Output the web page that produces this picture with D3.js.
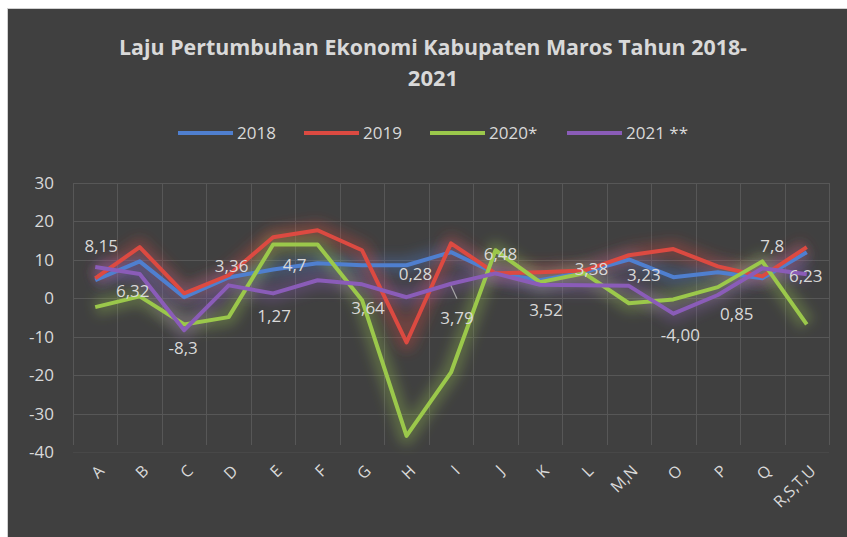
<!DOCTYPE html>
<html>
<head>
<meta charset="utf-8">
<script src="https://cdn.jsdelivr.net/npm/d3@7"></script>
<style>
  html, body { margin: 0; padding: 0; background: #ffffff; }
  svg { display: block; }
  text { font-family: "Open Sans", "Noto Sans", sans-serif; }
</style>
</head>
<body>
<div id="chart"></div>
<script>
// sectors (lapangan usaha)
const categories = ["A","B","C","D","E","F","G","H","I","J","K","L","M,N","O","P","Q","R,S,T,U"];

// growth rates per year
const s2018 = [4.7, 9.6, 0.3, 5.4, 7.5, 9.1, 8.6, 8.6, 12.0, 6.5, 4.7, 6.8, 10.1, 5.5, 6.8, 5.2, 12.0];
const s2019 = [5.2, 13.3, 1.3, 6.0, 15.9, 17.7, 12.5, -11.5, 14.3, 6.5, 6.8, 7.2, 11.2, 12.8, 8.3, 5.7, 13.3];
const s2020 = [-2.3, 0.5, -6.8, -4.9, 14.0, 14.0, -0.5, -35.8, -19.3, 12.5, 4.2, 6.5, -1.3, -0.3, 2.9, 9.6, -6.8];
const s2021 = [8.15, 6.32, -8.3, 3.36, 1.27, 4.7, 3.64, 0.28, 3.79, 6.48, 3.52, 3.38, 3.23, -4.00, 0.85, 7.8, 6.23];

const seriesNames = ["2018", "2019", "2020*", "2021 **"];
const seriesColors = ["#4f7fcf", "#dc4a41", "#9bc84b", "#8a5cb8"];
const yTicks = [30, 20, 10, 0, -10, -20, -30, -40];

// where Excel put each data label for 2021, relative to the point
const labelPos = [[6,-21],[-7,17],[-1,18],[3,-19],[1,23],[-23,-15],[6,24],[9,-23],[6,34],[5,-19],[6,25],[7,-16],[15,-11],[7,21],[19,19],[10,-22],[-1,2]];

const W = 847, H = 537;
const svg = d3.select("#chart").append("svg").attr("width", W).attr("height", H);

// frame
svg.append("rect").attr("x", 0).attr("y", 0).attr("width", W).attr("height", H).attr("fill", "#ffffff");
svg.append("rect").attr("x", 7.5).attr("y", 8.5).attr("width", W).attr("height", H)
    .attr("fill", "#404040").attr("stroke", "#d0d0d0").attr("stroke-width", 1);

const defs = svg.append("defs");
const glow = defs.append("filter").attr("id", "glow")
    .attr("x", "-20%").attr("y", "-50%").attr("width", "140%").attr("height", "200%");
glow.append("feGaussianBlur").attr("stdDeviation", 6);

const x = d3.scaleBand().domain(categories).range([73, 829]);
const y = d3.scaleLinear().domain([-40, 30]).range([452, 183]);

// gridlines
const grid = svg.append("g").attr("stroke", "#575757").attr("stroke-width", 1);
grid.selectAll("line.h").data(yTicks).enter().append("line")
    .attr("x1", 73).attr("x2", 829)
    .attr("y1", d => Math.round(y(d)) + 0.5).attr("y2", d => Math.round(y(d)) + 0.5)
    .attr("opacity", d => d === -40 ? 0.35 : 1);
grid.selectAll("line.v").data(categories.concat(["_end"])).enter().append("line")
    .attr("x1", (d, i) => Math.round(i < categories.length ? x(d) : 829) + 0.5)
    .attr("x2", (d, i) => Math.round(i < categories.length ? x(d) : 829) + 0.5)
    .attr("y1", 183).attr("y2", 445);

// y axis labels
svg.append("g").selectAll("text").data(yTicks).enter().append("text")
    .attr("x", 54).attr("y", d => y(d)).attr("dy", "0.35em")
    .attr("text-anchor", "end").attr("fill", "#d9d9d9").attr("font-size", 17)
    .text(d => d);

// x axis labels, rotated
svg.append("g").selectAll("text").data(categories).enter().append("text")
    .attr("transform", d => `translate(${x(d) + x.bandwidth() / 2 + 6},468) rotate(-45)`)
    .attr("dy", "0.35em").attr("text-anchor", "end")
    .attr("fill", "#d9d9d9").attr("font-size", 16)
    .text(d => d);

const allSeries = [s2018, s2019, s2020, s2021];
const line = d3.line()
    .x((d, i) => x(categories[i]) + x.bandwidth() / 2)
    .y(d => y(d));

// soft glow behind each line
allSeries.forEach((s, k) => {
    svg.append("path").datum(s).attr("d", line)
        .attr("fill", "none").attr("stroke", seriesColors[k])
        .attr("stroke-width", 18).attr("stroke-opacity", 0.3)
        .attr("stroke-linejoin", "round").attr("filter", "url(#glow)");
});
allSeries.forEach((s, k) => {
    svg.append("path").datum(s).attr("d", line)
        .attr("fill", "none").attr("stroke", seriesColors[k])
        .attr("stroke-width", 4).attr("stroke-linejoin", "round");
});

// leader line for the label on I
const iI = categories.indexOf("I");
const px = x("I") + x.bandwidth() / 2;
svg.append("line")
    .attr("x1", px).attr("y1", y(s2021[iI]) + 2)
    .attr("x2", px + 6).attr("y2", y(s2021[iI]) + 15)
    .attr("stroke", "#a6a6a6").attr("stroke-width", 1.2);

// data labels (2021)
svg.append("g").selectAll("text").data(s2021).enter().append("text")
    .attr("x", (d, i) => x(categories[i]) + x.bandwidth() / 2 + labelPos[i][0])
    .attr("y", (d, i) => y(d) + labelPos[i][1])
    .attr("dy", "0.35em").attr("text-anchor", "middle")
    .attr("fill", "#d9d9d9").attr("font-size", 17)
    .text(d => d3.format(d === -4 ? ".2f" : "")(d).replace(".", ",").replace("−", "-"));

// title
const title = svg.append("g").attr("fill", "#d9d9d9").attr("font-weight", "bold").attr("text-anchor", "middle");
const t1 = title.append("text").attr("x", 433).attr("y", 55).attr("font-size", 22)
    .text("Laju Pertumbuhan Ekonomi Kabupaten Maros Tahun 2018-");
title.append("text").attr("x", 433).attr("y", 86).attr("font-size", 22).text("2021");
// squeeze the first line to the width it has in the picture
const w1 = t1.node().getComputedTextLength();
if (w1 > 628) t1.attr("textLength", 628).attr("lengthAdjust", "spacingAndGlyphs");

// legend
const legendX = [178, 304, 430, 567];
const legend = svg.append("g");
seriesNames.forEach((n, k) => {
    legend.append("line")
        .attr("x1", legendX[k]).attr("x2", legendX[k] + 55)
        .attr("y1", 133).attr("y2", 133)
        .attr("stroke", seriesColors[k]).attr("stroke-width", 4);
    legend.append("text")
        .attr("x", legendX[k] + 59).attr("y", 133).attr("dy", "0.35em")
        .attr("fill", "#d9d9d9").attr("font-size", 17)
        .text(n);
});
</script>
</body>
</html>
